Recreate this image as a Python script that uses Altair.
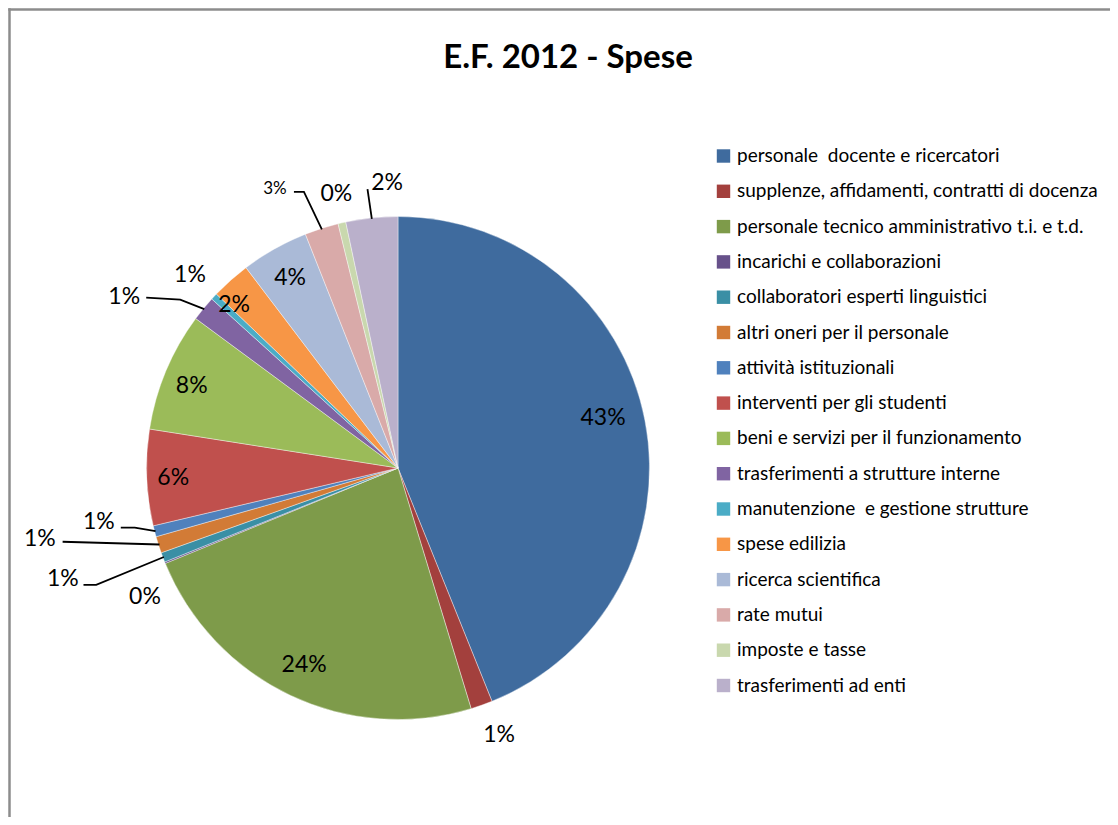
import math
import altair as alt
import pandas as pd

# ---------------- data ----------------
title_text = "E.F. 2012 - Spese"

categories = [
    "personale \u00a0docente e ricercatori",
    "supplenze, affidamenti, contratti di docenza",
    "personale tecnico amministrativo t.i. e t.d.",
    "incarichi e collaborazioni",
    "collaboratori esperti linguistici",
    "altri oneri per il personale",
    "attività istituzionali",
    "interventi per gli studenti",
    "beni e servizi per il funzionamento",
    "trasferimenti a strutture interne",
    "manutenzione \u00a0e gestione strutture",
    "spese edilizia",
    "ricerca scientifica",
    "rate mutui",
    "imposte e tasse",
    "trasferimenti ad enti",
]

# slice sizes (percent of total)
values = [43.9, 1.4, 23.5, 0.1, 0.62, 1.07, 0.71, 6.17, 7.65, 1.6, 0.43, 2.51, 4.33, 2.17, 0.5, 3.33]

# data labels as printed on the chart
labels = ["43%", "1%", "24%", "0%", "1%", "1%", "1%", "6%", "8%", "1%", "1%", "2%", "4%", "3%", "0%", "2%"]

colors = [
    "#3F6B9E", "#A3403D", "#7E9B4A", "#67518A", "#3A8FA5", "#D27B36",
    "#4F81BD", "#C0504D", "#9BBB59", "#8064A2", "#4BACC6", "#F79646",
    "#AABAD7", "#D9AAA9", "#C9D8AE", "#BAB0CB",
]

# ---------------- layout ----------------
W, H = 1102, 809
CX, CY, R = 390.0, 460.0, 251.5
FONT = "Lato"

# label placement (Excel "best fit"): radial distance and angular shift from slice middle
label_radius = [211, 285.5, 218, 284, 353, 365, 304, 225, 222, 323, 284, 231, 218.5, 305, 281, 285]
label_shift = [-2.7, -1.3, 0.1, -4.9, 2.5, 6.6, 4.4, -0.3, -1.0, -7.3, -0.1, -3.5, -0.2, -6.1, 0.2, 3.8]
label_size = [23, 23, 23, 23, 23, 23, 23, 23, 23, 23, 23, 23, 23, 17, 23, 23]

# leader lines: slice index -> points (offsets from the label centre) before reaching the slice edge
leaders = {
    4: [(20.6, 6), (33.3, 6)],
    5: [(22.7, 3)],
    6: [(22, 6), (36, 6)],
    9: [(22, 1), (56, 3)],
    13: [(19, 3), (29, 3)],
    15: [(-19.6, 6)],
}

# ---------------- derived geometry ----------------
total = sum(values)
mids = []
cum = 0.0
for v in values:
    mids.append((cum + v / 2) / total * 360.0)
    cum += v


def polar(angle_deg, r):
    a = math.radians(angle_deg)
    return CX + r * math.sin(a), CY - r * math.cos(a)


lab_rows = []
for i, lab in enumerate(labels):
    x, y = polar(mids[i] + label_shift[i], label_radius[i])
    lab_rows.append({"x": x, "y": y, "label": lab, "fs": label_size[i]})
lab_df = pd.DataFrame(lab_rows)

line_rows = []
for i, offs in leaders.items():
    lx, ly = lab_rows[i]["x"], lab_rows[i]["y"]
    k = 0
    for dx, dy in offs:
        line_rows.append({"lid": i, "ord": k, "x": lx + dx, "y": ly + dy})
        k += 1
    ex, ey = polar(mids[i], R - 1)
    line_rows.append({"lid": i, "ord": k, "x": ex, "y": ey})
line_df = pd.DataFrame(line_rows)

pie_df = pd.DataFrame({"category": categories, "value": values, "idx": list(range(len(values)))})

# ---------------- chart ----------------
arcs = alt.Chart(pie_df).mark_arc(outerRadius=R, stroke="white", strokeWidth=0.4).encode(
    theta=alt.Theta("value:Q", stack=True),
    color=alt.Color(
        "category:N",
        sort=categories,
        scale=alt.Scale(domain=categories, range=colors),
        legend=alt.Legend(
            title=None,
            orient="none",
            legendX=706,
            legendY=138.5,
            symbolType="square",
            symbolSize=180,
            symbolStrokeWidth=0,
            labelFont=FONT,
            labelFontSize=19,
            labelColor="black",
            labelOffset=4,
            rowPadding=15.3,
            labelLimit=600,
            padding=0,
        ),
    ),
    order=alt.Order("idx:Q"),
    x=alt.value(CX),
    y=alt.value(CY),
)

texts = alt.Chart(lab_df).mark_text(font=FONT, baseline="middle", align="center", color="black").encode(
    x=alt.X("x:Q", scale=None, axis=None),
    y=alt.Y("y:Q", scale=None, axis=None),
    text="label:N",
    size=alt.Size("fs:Q", scale=None, legend=None),
)

lines = alt.Chart(line_df).mark_line(color="black", strokeWidth=1.8).encode(
    x=alt.X("x:Q", scale=None, axis=None),
    y=alt.Y("y:Q", scale=None, axis=None),
    detail="lid:N",
    order="ord:Q",
)

title = alt.Chart(pd.DataFrame({"t": [title_text]})).mark_text(
    font=FONT, fontSize=33, fontWeight="bold", align="center", baseline="alphabetic", color="black"
).encode(text="t:N", x=alt.value(560), y=alt.value(60))

border_df = pd.DataFrame({"d": [0]})
left_border = alt.Chart(border_df).mark_rule(color="#8C8C8C", strokeWidth=2.5).encode(
    x=alt.value(1.5), y=alt.value(0.3), y2=alt.value(H)
)
top_border = alt.Chart(border_df).mark_rule(color="#8C8C8C", strokeWidth=2.5).encode(
    y=alt.value(1.5), x=alt.value(0.3), x2=alt.value(W)
)

chart = alt.layer(arcs, lines, texts, title, left_border, top_border).properties(
    width=W, height=H, padding=0, autosize=alt.AutoSizeParams(type="none")
).configure_view(strokeWidth=0)

chart.save("out.html", embed_options={"renderer": "svg", "actions": False})
